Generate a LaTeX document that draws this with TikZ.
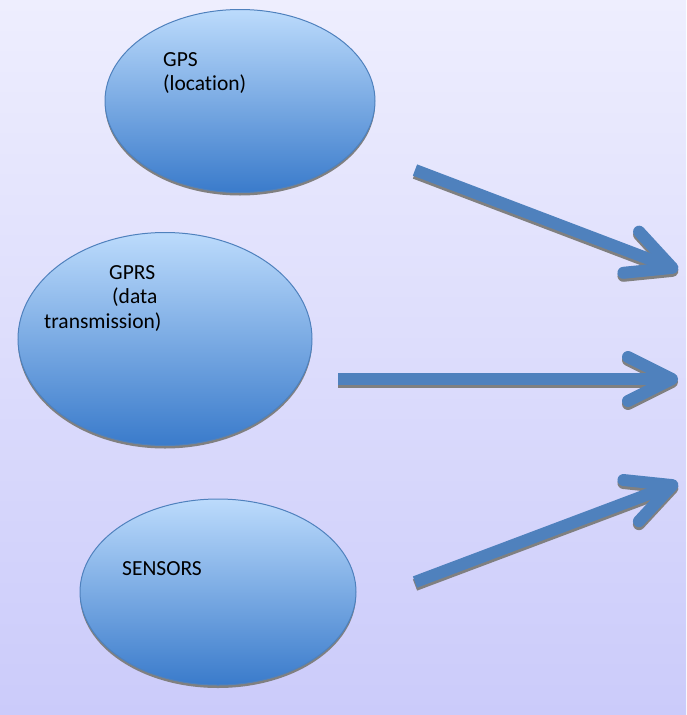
\documentclass[tikz,border=0pt]{standalone}
\usepackage{fontspec}
\setmainfont{Carlito}[Ligatures=CommonOff]
\usetikzlibrary{shapes.geometric,shadows,arrows.meta}
\definecolor{accent}{HTML}{4F81BD}
\definecolor{bubtop}{HTML}{BCDBFC}
\definecolor{bubbot}{HTML}{3A7BCB}
\definecolor{bgtop}{HTML}{EEEEFE}
\definecolor{bgbot}{HTML}{CBCBFA}
\tikzset{
  bubble/.style={ellipse,draw=accent,line width=1pt,inner sep=0pt,top color=bubtop,bottom color=bubbot,
    drop shadow={shadow xshift=0pt,shadow yshift=-3pt,fill=black!50,opacity=1}},
  lbl/.style={font=\fontsize{21.5}{24.5}\selectfont,inner sep=0pt,align=left,anchor=north west},
  pointer/.style={accent,line width=12pt,-{Straight Barb[length=44pt,width=44pt,round]}},
  pointer shadow/.style={pointer,black!50,transform canvas={yshift=-3pt}}
}
\begin{document}
\begin{tikzpicture}[x=1pt,y=-1pt]
\fill[top color=bgtop,bottom color=bgbot] (0,0) rectangle (686,715);
\node[bubble,minimum width=270pt,minimum height=183pt] (gps) at (240,101) {};
\node[bubble,minimum width=294pt,minimum height=213pt] (gprs) at (165,339) {};
\node[bubble,minimum width=276pt,minimum height=186pt] (sensors) at (218,592) {};
\node[lbl] (gps-text) at (163,52) {GPS\\(location)};
\node[lbl] (gprs-text) at (44,265) {\hspace*{65pt}GPRS\\\hspace*{68pt}(data\\transmission)};
\node[lbl] (sensors-text) at (122,561) {SENSORS};
\coordinate (gps-out) at (415,170);
\coordinate (gps-in) at (678,270);
\coordinate (gprs-out) at (338,379);
\coordinate (gprs-in) at (678,379);
\coordinate (sensors-out) at (415,582);
\coordinate (sensors-in) at (678,483);
\foreach \a in {gps,gprs,sensors}
  \draw[pointer shadow] (\a-out) -- (\a-in);
\foreach \a in {gps,gprs,sensors}
  \draw[pointer] (\a-out) -- (\a-in);
\end{tikzpicture}
\end{document}
